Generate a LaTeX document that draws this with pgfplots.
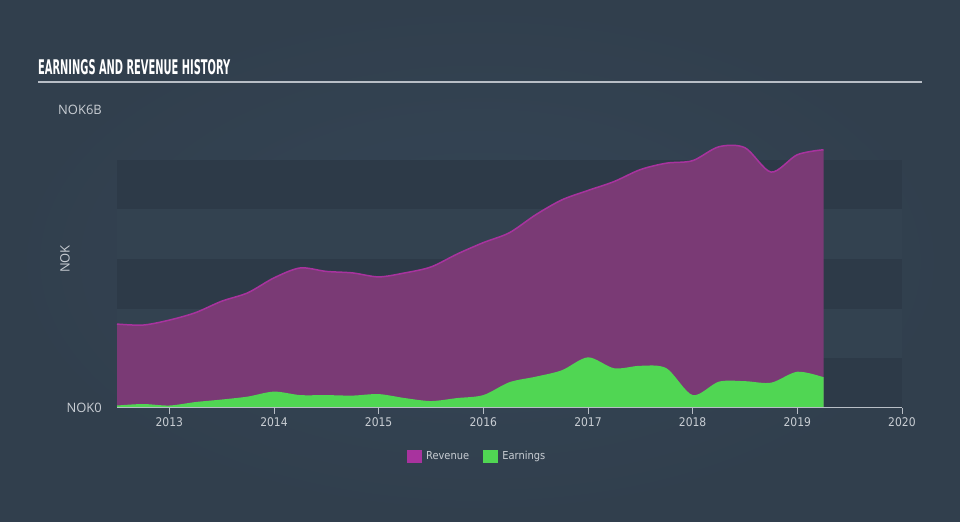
\documentclass[border=0pt]{standalone}
\usepackage{pgfplots}
\pgfplotsset{compat=1.18}
\usepackage{fontspec}
\setmainfont{Open Sans}
\newfontfamily\condfont{DejaVu Sans Condensed}
\usetikzlibrary{shadings}

\definecolor{bgmid}{HTML}{354556}
\definecolor{bgedge}{HTML}{313F4D}
\definecolor{banddark}{HTML}{2D3A48}
\definecolor{bandlight}{HTML}{334250}
\definecolor{revfill}{HTML}{7A3A75}
\definecolor{revline}{HTML}{A8339E}
\definecolor{earnfill}{HTML}{50D653}
\definecolor{axisgrey}{HTML}{B8BEC6}
\definecolor{labelgrey}{HTML}{C8CDD3}

\pgfplotstableread{
year   rev   earn
2012.50 1.69 0.05
2012.75 1.67 0.08
2013.00 1.77 0.05
2013.25 1.92 0.12
2013.50 2.15 0.17
2013.75 2.32 0.23
2014.00 2.62 0.33
2014.25 2.82 0.26
2014.50 2.75 0.26
2014.75 2.72 0.25
2015.00 2.64 0.28
2015.25 2.72 0.20
2015.50 2.84 0.14
2015.75 3.10 0.20
2016.00 3.33 0.26
2016.25 3.53 0.52
2016.50 3.89 0.63
2016.75 4.19 0.76
2017.00 4.38 1.02
2017.25 4.56 0.80
2017.50 4.80 0.85
2017.75 4.93 0.80
2018.00 4.98 0.26
2018.25 5.26 0.53
2018.50 5.24 0.54
2018.75 4.75 0.51
2019.00 5.10 0.73
2019.25 5.20 0.62
}\history

\begin{document}
\begin{tikzpicture}
\useasboundingbox (0bp,0bp) rectangle (960bp,522bp);
\shade[inner color=bgmid,outer color=bgedge] (0bp,0bp) rectangle (960bp,522bp);
\node[anchor=west,inner sep=0pt,text=white] at (38bp,455bp) {\resizebox{192bp}{15bp}{\condfont\bfseries EARNINGS AND REVENUE HISTORY}};
\draw[axisgrey,line width=1.6bp] (38bp,440bp) -- (922bp,440bp);
\begin{axis}[
  at={(117bp,114bp)},
  anchor=south west,
  scale only axis,
  width=785bp,
  height=298bp,
  xmin=2012.5, xmax=2020,
  ymin=0, ymax=6,
  axis line style={draw=none},
  /pgf/number format/assume math mode=true,
  xtick={2013,...,2020},
  xticklabel style={font=\condfont\fontsize{12}{12}\selectfont,text=labelgrey,/pgf/number format/1000 sep={}},
  ytick={0,6},
  yticklabels={NOK0,NOK6B},
  yticklabel style={font=\fontsize{13}{13}\selectfont,text=labelgrey,anchor=east,inner sep=0pt,xshift=-9bp},
  ytick style={draw=none},
  xtick style={axisgrey,line width=0.8bp},
  tick align=outside,
  xtick pos=bottom,
  major tick length=6bp,
  ylabel={NOK},
  every axis y label/.style={at={(axis description cs:0,0.5)},rotate=90,anchor=center,yshift=52bp,font=\fontsize{13}{13}\selectfont,text=labelgrey},
  legend columns=2,
  legend style={at={(0.4586,-0.161)},anchor=center,draw=none,fill=none,text=labelgrey,font=\condfont\fontsize{11}{11}\selectfont,
    /tikz/every even column/.append style={column sep=12bp}},
  legend image code/.code={\fill[#1] (0bp,-6bp) rectangle (14bp,6bp); \path (17bp,0bp);},
  clip=false,
]
\fill[banddark] (axis cs:2012.5,0) rectangle (axis cs:2020,1);
\fill[bandlight] (axis cs:2012.5,1) rectangle (axis cs:2020,2);
\fill[banddark] (axis cs:2012.5,2) rectangle (axis cs:2020,3);
\fill[bandlight] (axis cs:2012.5,3) rectangle (axis cs:2020,4);
\fill[banddark] (axis cs:2012.5,4) rectangle (axis cs:2020,5);
\addlegendimage{revline}
\addlegendentry{Revenue}
\addlegendimage{earnfill}
\addlegendentry{Earnings}
\addplot[forget plot,fill=revfill,draw=none,smooth,tension=0.5] table[x=year,y=rev] {\history} \closedcycle;
\addplot[forget plot,revline,line width=1.5bp,smooth,tension=0.5] table[x=year,y=rev] {\history};
\addplot[forget plot,fill=earnfill,draw=none,smooth,tension=0.5] table[x=year,y=earn] {\history} \closedcycle;
\draw[axisgrey,line width=1bp] (axis cs:2012.5,0) -- (axis cs:2020,0);
\end{axis}
\end{tikzpicture}
\end{document}
